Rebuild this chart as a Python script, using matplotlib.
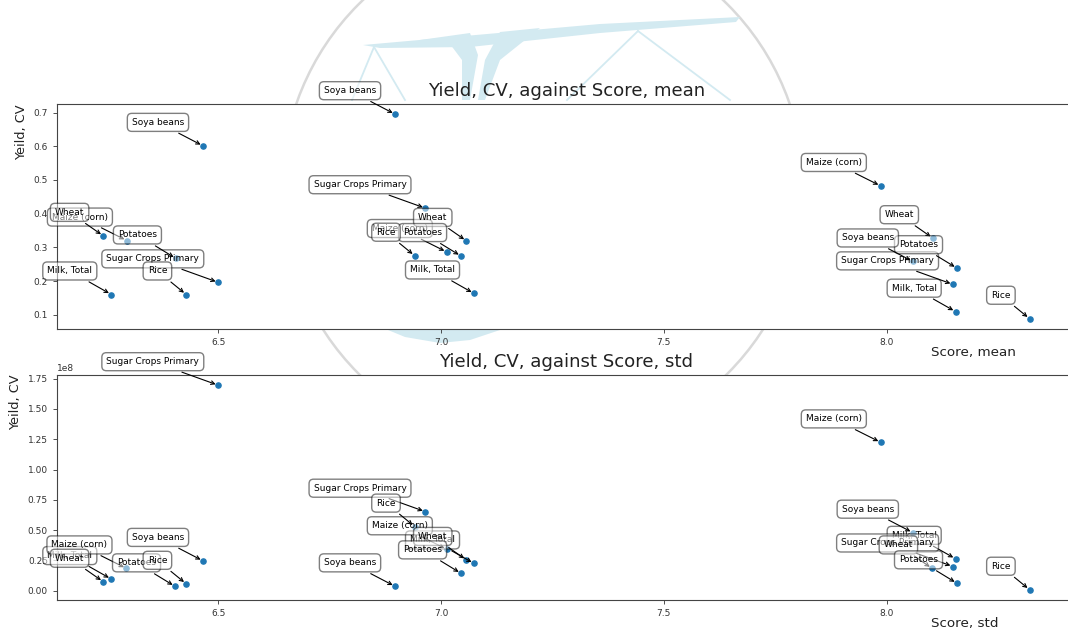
import matplotlib
matplotlib.use('Agg')
import matplotlib.pyplot as plt
from matplotlib.patches import Ellipse, Polygon

W, H = 1068, 635

# crops, in the order their labels get drawn (3 groups of 7)
crops = ['Milk, Total', 'Maize (corn)', 'Sugar Crops Primary', 'Wheat',
         'Potatoes', 'Rice', 'Soya beans'] * 3

score_mean = [6.260, 6.295, 6.500, 6.242, 6.405, 6.428, 6.466,
              7.074, 7.013, 6.965, 7.057, 7.045, 6.941, 6.897,
              8.155, 7.987, 8.149, 8.104, 8.158, 8.321, 8.059]
cv_mean = [0.160, 0.320, 0.196, 0.334, 0.267, 0.160, 0.601,
           0.163, 0.286, 0.416, 0.319, 0.274, 0.275, 0.695,
           0.109, 0.482, 0.190, 0.327, 0.238, 0.088, 0.258]

score_std = [6.260, 6.294, 6.500, 6.242, 6.403, 6.428, 6.466,
             7.074, 7.013, 6.965, 7.057, 7.045, 6.941, 6.897,
             8.155, 7.987, 8.149, 8.102, 8.158, 8.321, 8.059]
cv_std = [0.096e8, 0.184e8, 1.696e8, 0.074e8, 0.036e8, 0.057e8, 0.246e8,
          0.225e8, 0.342e8, 0.652e8, 0.254e8, 0.143e8, 0.529e8, 0.036e8,
          0.263e8, 1.224e8, 0.200e8, 0.184e8, 0.061e8, 0.008e8, 0.479e8]


def px(x, y):
    return (x / W, 1 - y / H)


fig = plt.figure(figsize=(W / 100, H / 100), dpi=100)

# faint logo in the background
wm_blue = '#d3eaf1'
fig.patches.append(Ellipse(px(543, 189), 2 * 261 / W, 2 * 261 / H,
                           transform=fig.transFigure, fill=False,
                           ec='#d9d9d9', lw=1.8, zorder=-2))
fig.patches.append(Polygon([px(363, 45), px(600, 24), px(740, 17), px(736, 22),
                            px(600, 33), px(470, 47), px(380, 48)], closed=True,
                           transform=fig.transFigure, fc=wm_blue, ec='none', zorder=-1))
fig.patches.append(Polygon([px(420, 40), px(470, 33), px(478, 55), px(470, 100),
                            px(462, 100), px(462, 60), px(450, 44)], closed=True,
                           transform=fig.transFigure, fc=wm_blue, ec='none', zorder=-1))
fig.patches.append(Polygon([px(500, 32), px(540, 28), px(500, 60), px(485, 100),
                            px(478, 100), px(485, 60)], closed=True,
                           transform=fig.transFigure, fc=wm_blue, ec='none', zorder=-1))
for a, b in [((374, 47), (352, 100)), ((374, 47), (405, 100)),
             ((638, 31), (567, 100)), ((638, 31), (730, 100))]:
    fig.lines.append(plt.Line2D([a[0] / W, b[0] / W], [1 - a[1] / H, 1 - b[1] / H],
                                transform=fig.transFigure, color=wm_blue, lw=1.3, zorder=-1))
fig.patches.append(Polygon([px(388, 330), px(500, 330), px(470, 340), px(440, 343),
                            px(405, 337)], closed=True,
                           transform=fig.transFigure, fc=wm_blue, ec='none', zorder=-1))

ax1 = fig.add_axes([57 / W, 1 - 329 / H, 1019 / W, 225 / H])
ax2 = fig.add_axes([57 / W, 1 - 600 / H, 1019 / W, 225 / H])


def draw(ax, xs, ys, title, xlabel):
    ax.scatter(xs, ys, s=14, color='#1f77b4')
    for label, x, y in zip(crops, xs, ys):
        ax.annotate(label, xy=(x, y), xytext=(-13.7, 13.7), textcoords='offset points',
                    ha='right', va='bottom', fontsize=6.5,
                    bbox=dict(boxstyle='round,pad=0.5', fc='white', alpha=0.5),
                    arrowprops=dict(arrowstyle='->', connectionstyle='arc3,rad=0', lw=0.8))
    ax.set_title(title, fontsize=13.1, color='#222222')
    ax.set_ylabel('Yeild, CV', fontsize=9.3, color='#222222', loc='top')
    ax.set_xlabel(xlabel, fontsize=9.7, color='#222222')
    ax.xaxis.set_label_coords(0.858, -0.075)
    ax.xaxis.label.set_ha('left')
    ax.set_xticks([6.5, 7.0, 7.5, 8.0])
    ax.tick_params(labelsize=6.5, colors='#333333', length=3, width=0.6)
    ax.yaxis.get_offset_text().set_fontsize(6.5)
    for sp in ax.spines.values():
        sp.set_color('#444444')
        sp.set_linewidth(0.8)


draw(ax1, score_mean, cv_mean, 'Yield, CV, against Score, mean', 'Score, mean')
draw(ax2, score_std, cv_std, 'Yield, CV, against Score, std', 'Score, std')

plt.savefig('out.png', dpi=100)
